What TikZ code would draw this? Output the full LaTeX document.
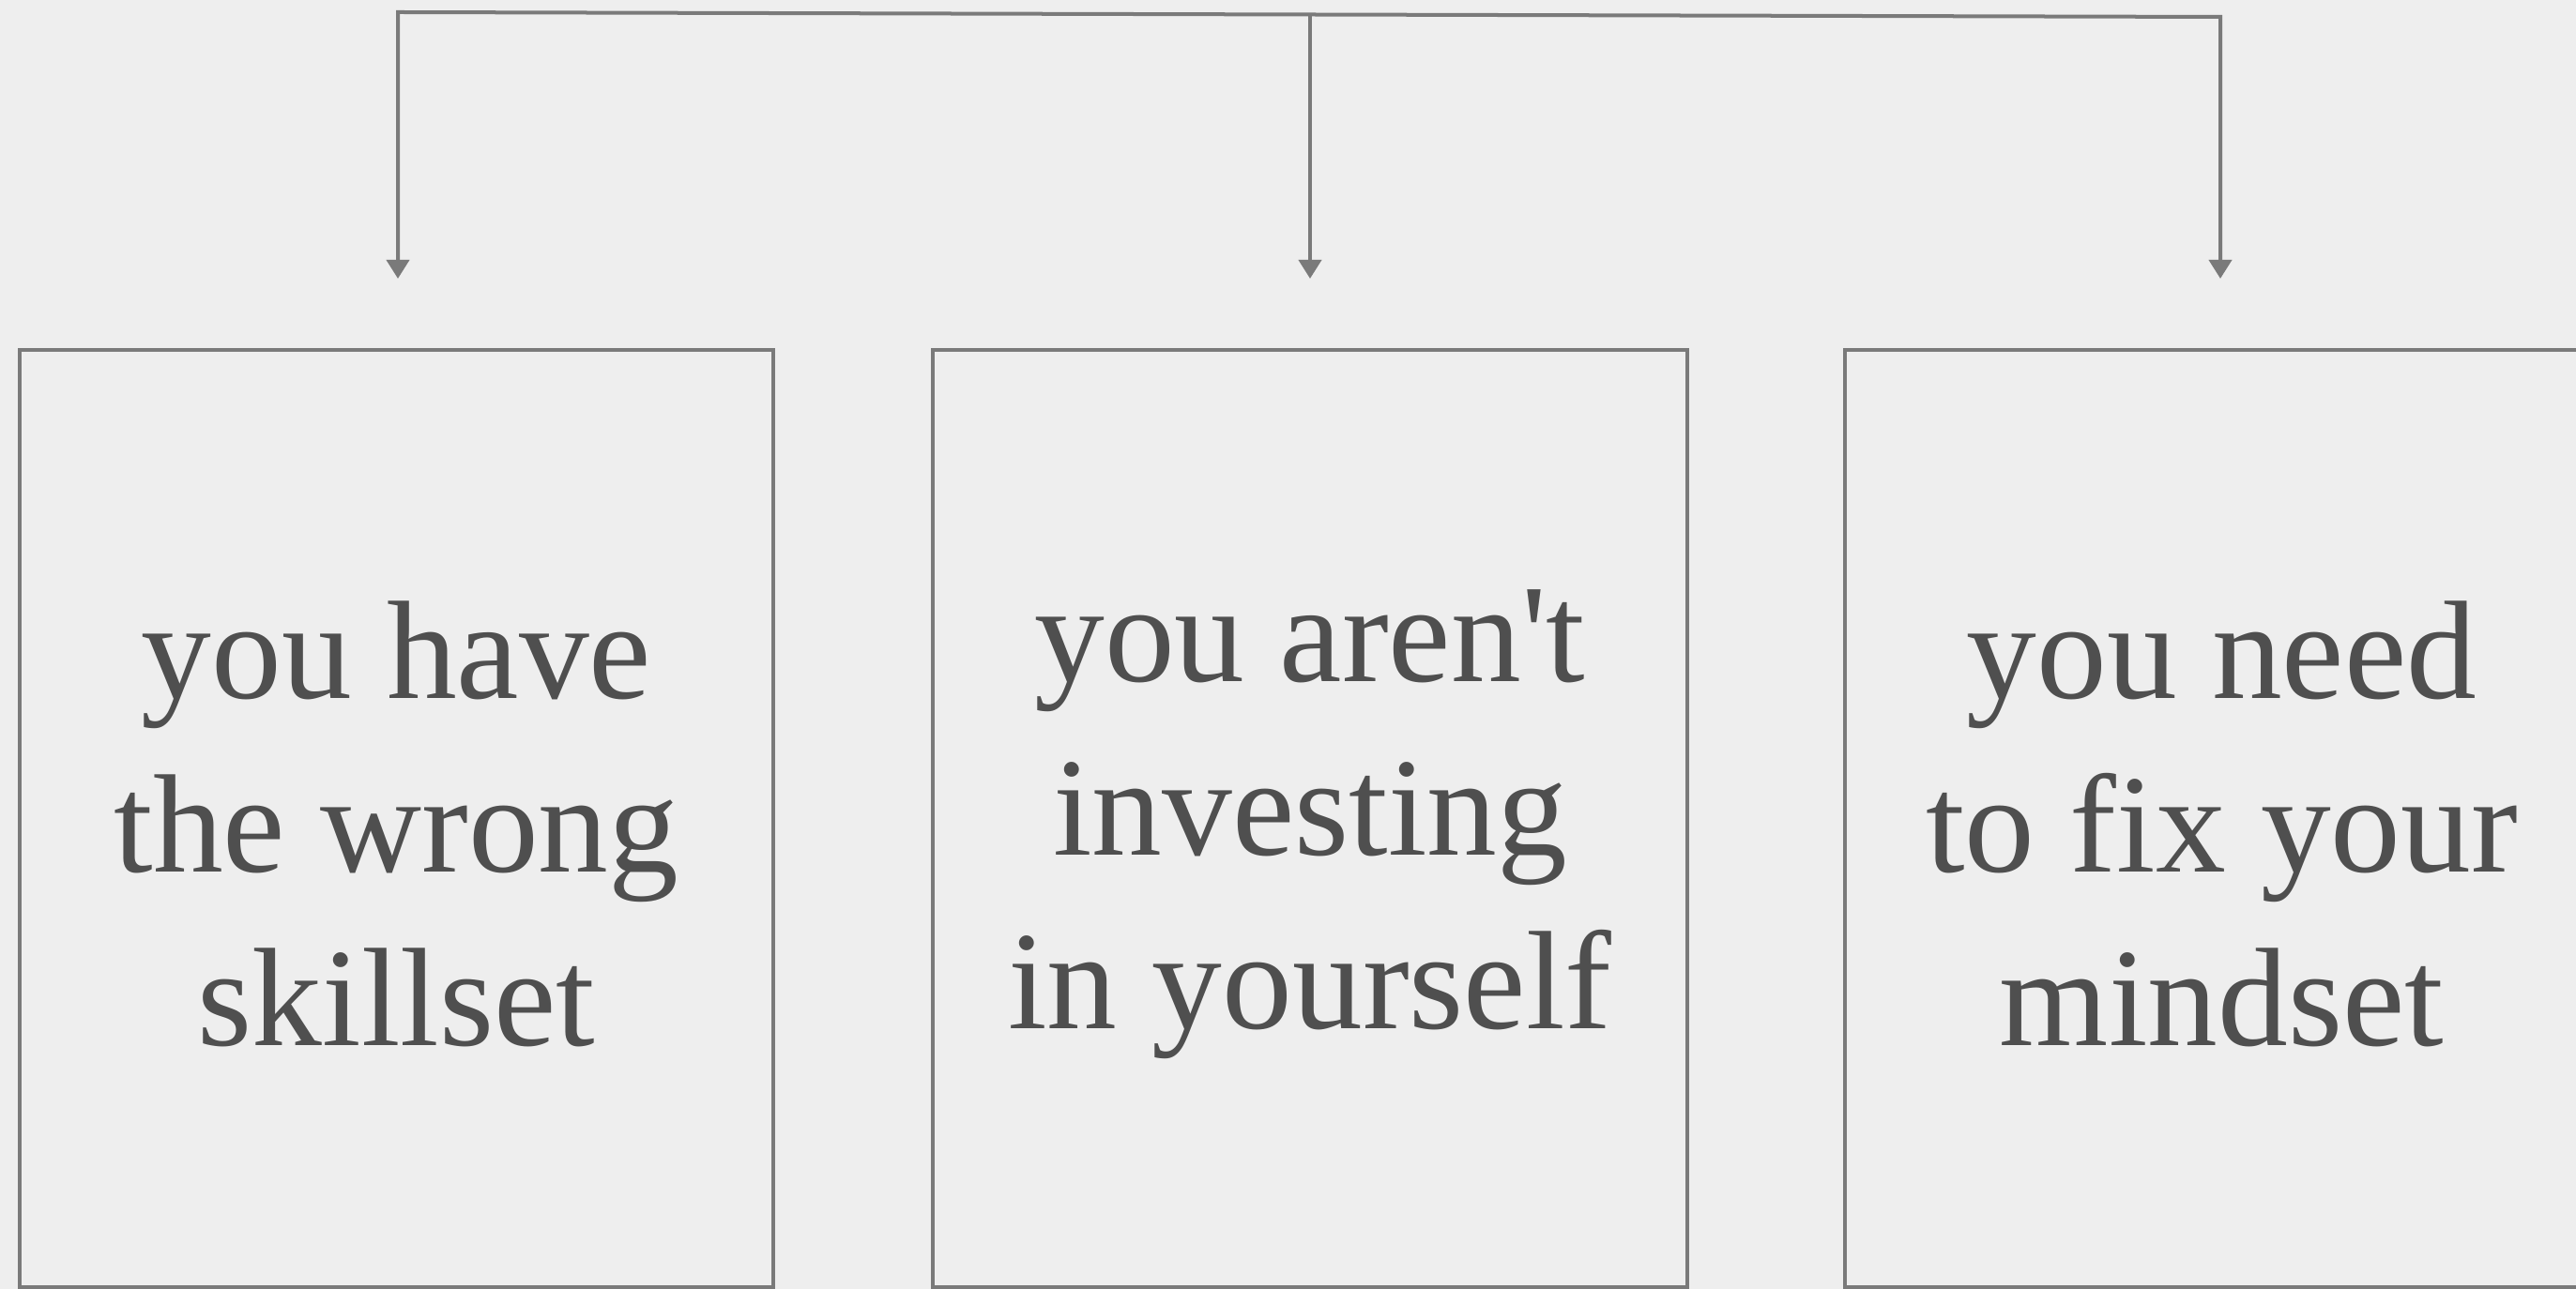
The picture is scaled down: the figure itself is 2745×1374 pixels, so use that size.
\documentclass[tikz,border=0pt]{standalone}
\usepackage{fontspec}
\setmainfont{Liberation Serif}
\usetikzlibrary{arrows.meta}
\definecolor{bg}{HTML}{EEEEEE}
\definecolor{linegray}{HTML}{7A7A7A}
\definecolor{textgray}{HTML}{4F4F4F}
\begin{document}
\begin{tikzpicture}[x=0.01cm,y=-0.01cm,
  conn/.style={draw=linegray,line width=0.04cm,line join=miter},
  tipstyle/.style={-{Triangle[width=0.24cm,length=0.2cm]}},
  box/.style={draw=linegray,line width=0.04cm,minimum width=8.03cm,minimum height=9.99cm,
    inner sep=0pt,align=center,text=textgray,
    font=\fontsize{42.5pt}{52.6pt}\selectfont}]
\clip (0,0) rectangle (2745,1374);
\fill[bg] (0,0) rectangle (2745,1374);
\node[box] (b1) at (422.5,872.5) {};
\node[box] (b2) at (1396,872.5) {};
\node[box] (b3) at (2367.5,872.5) {};
\node[align=center,text=textgray,inner sep=0pt,font=\fontsize{42.5pt}{52.6pt}\selectfont] (t1) at ([yshift=-0.06cm]b1.center) {you have\\the wrong\\skillset};
\node[align=center,text=textgray,inner sep=0pt,font=\fontsize{42.5pt}{52.6pt}\selectfont] (t2) at ([yshift=-0.06cm]b2.center) {you aren\textquotesingle t\\investing\\in yourself};
\node[align=center,text=textgray,inner sep=0pt,font=\fontsize{42.5pt}{52.6pt}\selectfont] (t3) at ([yshift=-0.06cm]b3.center) {you need\\to fix your\\mindset};
\coordinate (top1) at (424,13);
\coordinate (top2) at (1396,15.5);
\coordinate (top3) at (2366,18);
\coordinate (tip1) at (424,297);
\coordinate (tip2) at (1396,297);
\coordinate (tip3) at (2366,297);
\draw[conn,{Triangle[width=0.24cm,length=0.2cm]}-{Triangle[width=0.24cm,length=0.2cm]}] (tip1) -- (top1) -- (top3) -- (tip3);
\draw[conn,tipstyle] (top2) -- (tip2);
\end{tikzpicture}
\end{document}
